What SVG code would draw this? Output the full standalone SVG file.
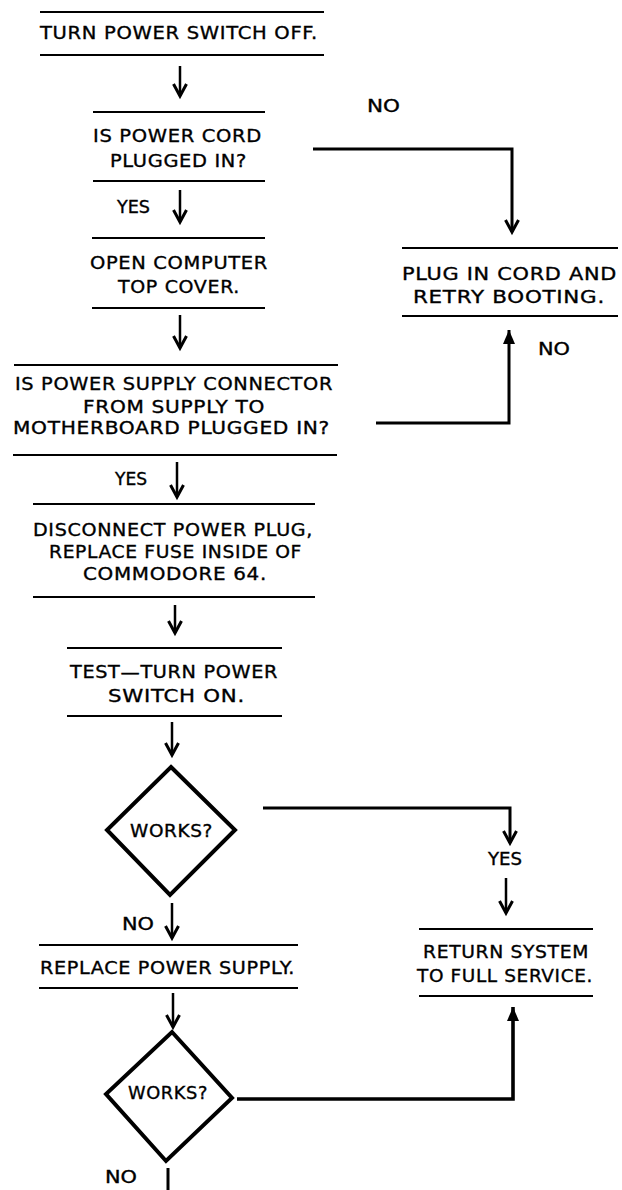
<svg xmlns="http://www.w3.org/2000/svg" width="622" height="1190" viewBox="0 0 622 1190">
<style>
  .bg{fill:#fff}
  .rule{stroke:#000;stroke-width:2;fill:none}
  .t{font-family:"DejaVu Sans","Liberation Sans",sans-serif;font-size:17.5px;fill:#000;stroke:#000;stroke-width:0.35px;text-anchor:middle;letter-spacing:0.6px}
  .lbl{font-family:"DejaVu Sans","Liberation Sans",sans-serif;font-size:17px;fill:#000;stroke:#000;stroke-width:0.35px;text-anchor:middle}
  .dia{stroke:#000;stroke-width:4;fill:none;stroke-linejoin:miter}
  .c{stroke:#000;stroke-width:2.5;fill:none}
  .ck{stroke:#000;stroke-width:3;fill:none}
  .v{marker-end:url(#ah)}
  .u{marker-end:url(#tri)}
</style>
<defs>
  <marker id="ah" markerUnits="userSpaceOnUse" markerWidth="16" markerHeight="20" viewBox="-14 -10 16 20" refX="0" refY="0" orient="auto" overflow="visible">
    <path d="M-12,-6.5 L0,0 L-12,6.5" fill="none" stroke="#000" stroke-width="3"/>
  </marker>
  <marker id="tri" markerUnits="userSpaceOnUse" markerWidth="16" markerHeight="16" viewBox="-14 -8 16 16" refX="0" refY="0" orient="auto" overflow="visible">
    <path d="M-14,-6 L0,0 L-14,6 Z" fill="#000"/>
  </marker>
</defs>
<rect class="bg" x="0" y="0" width="622" height="1190"/>

<g id="connectors">
  <path class="c v" d="M180,66 V96"/>
  <path class="ck v" d="M313,149 H512 V232"/>
  <path class="c v" d="M180,190 V222"/>
  <path class="c v" d="M180,315 V348"/>
  <path class="ck u" d="M376,423 H509 V330"/>
  <path class="c v" d="M177,462 V497"/>
  <path class="c v" d="M175,605 V633"/>
  <path class="c v" d="M172,722 V755"/>
  <path class="ck v" d="M263,808 H510 V843"/>
  <path class="c v" d="M506,878 V913"/>
  <path class="c v" d="M172,903 V938"/>
  <path class="c v" d="M173,993 V1027"/>
  <path class="ck u" d="M237,1099 H513 V1007" style="stroke-width:3.6"/>
  <path class="ck" d="M168,1168 V1190"/>
  <g id="labels">
    <text class="lbl" x="383.5" y="112" textLength="33" lengthAdjust="spacingAndGlyphs">NO</text>
    <text class="lbl" x="133.5" y="213" textLength="33" lengthAdjust="spacingAndGlyphs">YES</text>
    <text class="lbl" x="554" y="355" textLength="32" lengthAdjust="spacingAndGlyphs">NO</text>
    <text class="lbl" x="131" y="485" textLength="32" lengthAdjust="spacingAndGlyphs">YES</text>
    <text class="lbl" x="505" y="865" textLength="34" lengthAdjust="spacingAndGlyphs">YES</text>
    <text class="lbl" x="138" y="930" textLength="32" lengthAdjust="spacingAndGlyphs">NO</text>
    <text class="lbl" x="121" y="1183" textLength="32" lengthAdjust="spacingAndGlyphs">NO</text>
  </g>
</g>

<g id="n1">
  <path class="rule" d="M40,12 H324 M40,55 H324"/>
  <text class="t" x="179" y="39" textLength="278" lengthAdjust="spacingAndGlyphs">TURN POWER SWITCH OFF.</text>
</g>
<g id="n2">
  <path class="rule" d="M93,112 H265 M93,181 H265"/>
  <text class="t" x="177.5" y="142" textLength="169" lengthAdjust="spacingAndGlyphs">IS POWER CORD</text>
  <text class="t" x="178.5" y="167" textLength="137" lengthAdjust="spacingAndGlyphs">PLUGGED IN?</text>
</g>
<g id="n3">
  <path class="rule" d="M92,238 H265 M92,308 H265"/>
  <text class="t" x="179" y="269" textLength="178" lengthAdjust="spacingAndGlyphs">OPEN COMPUTER</text>
  <text class="t" x="179" y="293" textLength="122" lengthAdjust="spacingAndGlyphs">TOP COVER.</text>
</g>
<g id="n4">
  <path class="rule" d="M14,365 H338 M13,455 H337"/>
  <text class="t" x="174" y="390" textLength="318" lengthAdjust="spacingAndGlyphs">IS POWER SUPPLY CONNECTOR</text>
  <text class="t" x="174" y="413" textLength="182" lengthAdjust="spacingAndGlyphs">FROM SUPPLY TO</text>
  <text class="t" x="171.5" y="434" textLength="317" lengthAdjust="spacingAndGlyphs">MOTHERBOARD PLUGGED IN?</text>
</g>
<g id="n5">
  <path class="rule" d="M33,504 H315 M33,597 H315"/>
  <text class="t" x="173" y="536" textLength="280" lengthAdjust="spacingAndGlyphs">DISCONNECT POWER PLUG,</text>
  <text class="t" x="175.5" y="558" textLength="253" lengthAdjust="spacingAndGlyphs">REPLACE FUSE INSIDE OF</text>
  <text class="t" x="175" y="580" textLength="184" lengthAdjust="spacingAndGlyphs">COMMODORE 64.</text>
</g>
<g id="n6">
  <path class="rule" d="M67,648 H282 M67,716 H282"/>
  <text class="t" x="174" y="678" textLength="208" lengthAdjust="spacingAndGlyphs">TEST—TURN POWER</text>
  <text class="t" x="176.5" y="702" textLength="137" lengthAdjust="spacingAndGlyphs">SWITCH ON.</text>
</g>
<g id="d1">
  <path class="dia" d="M171,767 L235,830 L170,895 L107,830 Z"/>
  <text class="t" x="171.5" y="837" textLength="83" lengthAdjust="spacingAndGlyphs">WORKS?</text>
</g>
<g id="n7">
  <path class="rule" d="M39,945 H298 M39,988 H298"/>
  <text class="t" x="167.5" y="974" textLength="255" lengthAdjust="spacingAndGlyphs">REPLACE POWER SUPPLY.</text>
</g>
<g id="d2">
  <path class="dia" d="M172,1032 L232,1098 L166,1161 L106,1094 Z"/>
  <text class="t" x="168" y="1099" textLength="80" lengthAdjust="spacingAndGlyphs">WORKS?</text>
</g>
<g id="n8">
  <path class="rule" d="M402,248 H618 M402,316 H618"/>
  <text class="t" x="509.5" y="280" textLength="215" lengthAdjust="spacingAndGlyphs">PLUG IN CORD AND</text>
  <text class="t" x="509" y="303" textLength="192" lengthAdjust="spacingAndGlyphs">RETRY BOOTING.</text>
</g>
<g id="n9">
  <path class="rule" d="M419,929 H593 M419,996 H593"/>
  <text class="t" x="506" y="958" textLength="166" lengthAdjust="spacingAndGlyphs">RETURN SYSTEM</text>
  <text class="t" x="505" y="982" textLength="176" lengthAdjust="spacingAndGlyphs">TO FULL SERVICE.</text>
</g>
</svg>
